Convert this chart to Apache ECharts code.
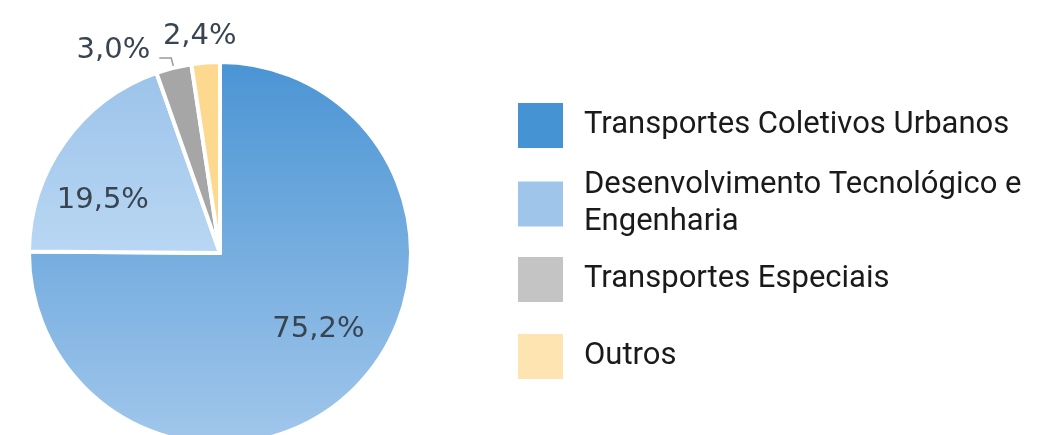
<!DOCTYPE html>
<html>
<head>
<meta charset="utf-8">
<title>Distribuição</title>
<script src="https://cdn.jsdelivr.net/npm/echarts@6/dist/echarts.min.js"></script>
<style>
  html, body { margin: 0; padding: 0; background: #ffffff; }
  #chart { width: 1040px; height: 435px; }
</style>
</head>
<body>
<div id="chart"></div>
<script>
// Categories and their shares (%)
const categories = [
  'Transportes Coletivos Urbanos',
  'Desenvolvimento Tecnológico e\nEngenharia',
  'Transportes Especiais',
  'Outros'
];
const shares = [75.2, 19.5, 3.0, 2.4];
const shareLabels = ['75,2%', '19,5%', '3,0%', '2,4%'];

// Slice fills (top/bottom of a vertical gradient) and legend swatches
const sliceTop = ['#4a94d4', '#9cc3ea', '#a6a6a6', '#fcd98e'];
const sliceBottom = ['#a2c7eb', '#b9d7f3', '#a6a6a6', '#fcd98e'];
const swatch = ['#4593d3', '#a0c5eb', '#c4c4c4', '#fde4b0'];

const chart = echarts.init(document.getElementById('chart'), null, { renderer: 'canvas' });

const labelColor = '#38444f';
const labelFont = 'DejaVu Sans, Verdana, sans-serif';

// label placement per slice
const labelCfg = [
  { position: 'inside', offset: [29, 7] },
  { position: 'inside', offset: [-37, 5] },
  { position: 'outside' },
  { position: 'outside' }
];
const lineCfg = [
  { show: false },
  { show: false },
  { show: true, length: 10, length2: 12 },
  { show: false, length: 14, length2: 0 }
];

const pieData = shares.map((v, i) => ({
  name: categories[i],
  value: v,
  itemStyle: {
    color: new echarts.graphic.LinearGradient(0, 0, 0, 1, [
      { offset: 0, color: sliceTop[i] },
      { offset: 1, color: sliceBottom[i] }
    ])
  },
  label: Object.assign({
    show: true,
    formatter: shareLabels[i],
    color: labelColor,
    fontFamily: labelFont,
    fontSize: 29
  }, labelCfg[i]),
  labelLine: Object.assign({ lineStyle: { color: '#9a9a9a', width: 1.5 } }, lineCfg[i])
}));

// legend rows, one component each so the rows keep an even rhythm
const legendTops = [96, 141, 250, 327];
const legendTextPad = [
  [4, 0, 0, 15],
  [42, 0, 0, 15],
  [4, 0, 0, 15],
  [4, 0, 0, 15]
];
const legends = categories.map((name, i) => ({
  orient: 'vertical',
  left: 511,
  top: legendTops[i],
  itemWidth: 47,
  itemHeight: 47,
  icon: 'rect',
  selectedMode: false,
  data: [{ name: name, itemStyle: { color: swatch[i] } }],
  textStyle: {
    fontFamily: 'Roboto, sans-serif',
    fontSize: 31,
    color: '#1a1a1a',
    lineHeight: 37,
    padding: legendTextPad[i]
  }
}));

chart.setOption({
  animation: false,
  backgroundColor: '#ffffff',
  legend: legends,
  series: [{
    type: 'pie',
    center: [220, 253],
    radius: 191,
    startAngle: 90,
    clockwise: true,
    avoidLabelOverlap: false,
    itemStyle: { borderColor: '#ffffff', borderWidth: 4 },
    emphasis: { disabled: true },
    data: pieData,
    labelLayout: function (p) {
      // nudge the small slices' labels to sit above their wedges
      if (p.dataIndex === 3) return { dx: 37, dy: -12 };
      if (p.dataIndex === 2) return { dx: -4, dy: -8 };
      return {};
    }
  }]
});
</script>
</body>
</html>
